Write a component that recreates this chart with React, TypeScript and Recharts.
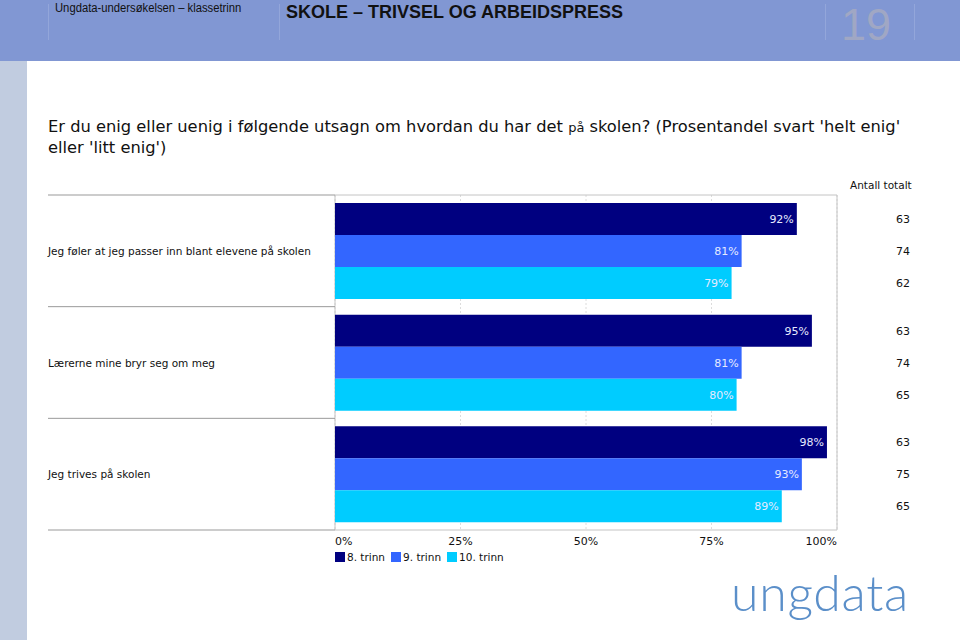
import { BarChart, Bar, XAxis, YAxis, CartesianGrid, LabelList, ReferenceArea } from "recharts";

const categories = [
  "Jeg føler at jeg passer inn blant elevene på skolen",
  "Lærerne mine bryr seg om meg",
  "Jeg trives på skolen",
];
const series = ["8. trinn", "9. trinn", "10. trinn"];
const trinn8 = [92, 95, 98];
const trinn9 = [81, 81, 93];
const trinn10 = [79, 80, 89];
const antall8 = [63, 63, 63];
const antall9 = [74, 74, 75];
const antall10 = [62, 65, 65];
const xTicks = [0, 25, 50, 75, 100];

const COLORS = ["#000080", "#3366ff", "#00ccff"];
const FONT = "'DejaVu Sans', Verdana, sans-serif";

const data = categories.map((label, i) => ({
  label,
  t8: trinn8[i],
  t9: trinn9[i],
  t10: trinn10[i],
  n8: antall8[i],
  n9: antall9[i],
  n10: antall10[i],
}));

const CHART_TOP = 170;
const MARGIN = { top: 25, right: 123, bottom: 10, left: 0 };
const CHART_H = 400;
const X_AXIS_H = 30;
const PLOT_H = CHART_H - MARGIN.top - MARGIN.bottom - X_AXIS_H;
const HALF_BAND = PLOT_H / categories.length / 2;

function CategoryTick(props: any) {
  const { y, payload, index } = props;
  const last = index === categories.length - 1;
  return (
    <g>
      <line x1={48} x2={335} y1={y - HALF_BAND} y2={y - HALF_BAND} stroke="#999" />
      {last && <line x1={48} x2={335} y1={y + HALF_BAND} y2={y + HALF_BAND} stroke="#999" />}
      <text x={48} y={y} dy={4} fontSize={10.5} fontFamily={FONT} fill="#111">
        {payload.value}
      </text>
    </g>
  );
}

function PercentTick(props: any) {
  const { x, y, payload, index } = props;
  const anchor = index === 0 ? "start" : index === xTicks.length - 1 ? "end" : "middle";
  return (
    <text x={x} y={y} dy={9} textAnchor={anchor} fontSize={11} fontFamily={FONT} fill="#111">
      {`${payload.value}%`}
    </text>
  );
}

function countLabel(key: string) {
  return (props: any) => {
    const { y, height, index } = props;
    const v = (data[index] as any)[key];
    return (
      <text x={910} y={y + height / 2} dy={4} textAnchor="end" fontSize={11} fontFamily={FONT} fill="#111">
        {v}
      </text>
    );
  };
}

export default function App() {
  const keys = ["t8", "t9", "t10"];
  const countKeys = ["n8", "n9", "n10"];
  return (
    <div style={{ position: "absolute", left: 0, top: 0, width: 960, height: 640, background: "#fff", overflow: "hidden" }}>
      {/* header band */}
      <div style={{ position: "absolute", left: 0, top: 0, width: 960, height: 61, background: "#8197d3" }} />
      {[48, 279, 825, 914].map((x) => (
        <div key={x} style={{ position: "absolute", left: x, top: 4, width: 1, height: 36, background: "#93a6da" }} />
      ))}
      <div
        style={{
          position: "absolute",
          left: 55,
          top: 1,
          fontFamily: "'Liberation Sans', Arial, sans-serif",
          fontSize: 12.5,
          color: "#111",
          whiteSpace: "nowrap",
          transform: "scaleX(0.9)",
          transformOrigin: "left top",
        }}
      >
        Ungdata-undersøkelsen – klassetrinn
      </div>
      <div style={{ position: "absolute", left: 286, top: 2, fontFamily: "'Liberation Sans', Arial, sans-serif", fontSize: 18, fontWeight: 700, color: "#111", whiteSpace: "nowrap" }}>
        SKOLE – TRIVSEL OG ARBEIDSPRESS
      </div>
      <div style={{ position: "absolute", left: 841, top: 0, fontFamily: "'Liberation Sans', Arial, sans-serif", fontSize: 45, lineHeight: "50px", color: "#a0a7c4" }}>
        19
      </div>
      {/* left stripe */}
      <div style={{ position: "absolute", left: 0, top: 61, width: 27, height: 579, background: "#c1cce0" }} />

      <div style={{ position: "absolute", left: 48, top: 117, fontFamily: FONT, fontSize: 16.3, lineHeight: "20px", color: "#111", whiteSpace: "nowrap" }}>
        Er du enig eller uenig i følgende utsagn om hvordan du har det <span style={{ fontSize: 13 }}>på</span> skolen? (Prosentandel svart 'helt enig'
        <br />
        eller 'litt enig')
      </div>

      <div style={{ position: "absolute", left: 850, top: 179, fontFamily: FONT, fontSize: 10.5, color: "#111" }}>Antall totalt</div>

      <div style={{ position: "absolute", left: 0, top: CHART_TOP }}>
        <BarChart
          width={960}
          height={CHART_H}
          data={data}
          layout="vertical"
          margin={MARGIN}
          barCategoryGap={8}
          barGap={0}
        >
          <CartesianGrid horizontal={false} stroke="#dcdcdc" strokeDasharray="2 2" />
          <XAxis
            type="number"
            domain={[0, 100]}
            ticks={xTicks}
            height={X_AXIS_H}
            axisLine={false}
            tickLine={false}
            tickSize={4}
            tick={<PercentTick />}
            interval={0}
          />
          <YAxis
            type="category"
            dataKey="label"
            width={335}
            axisLine={false}
            tickLine={false}
            tick={<CategoryTick />}
            interval={0}
          />
          <ReferenceArea x1={0} x2={100} fill="none" stroke="#c4c4c4" />
          {keys.map((k, i) => (
            <Bar key={k} dataKey={k} name={series[i]} fill={COLORS[i]} isAnimationActive={false}>
              <LabelList
                dataKey={k}
                position="insideRight"
                offset={3}
                formatter={(v: any) => `${v}%`}
                style={{ fill: "#e6eaff", fontSize: 11, fontFamily: FONT }}
              />
              <LabelList dataKey={countKeys[i]} content={countLabel(countKeys[i])} />
            </Bar>
          ))}
        </BarChart>
      </div>

      {/* legend */}
      <div style={{ position: "absolute", left: 335, top: 551, display: "flex", gap: 6, fontFamily: FONT, fontSize: 10.5, color: "#111" }}>
        {series.map((s, i) => (
          <div key={s} style={{ display: "flex", alignItems: "center", gap: 2 }}>
            <div style={{ width: 10, height: 10, background: COLORS[i] }} />
            <span>{s}</span>
          </div>
        ))}
      </div>

      {/* logo */}
      <div style={{ position: "absolute", left: 731, top: 562, fontFamily: "Lato, 'Open Sans', sans-serif", fontWeight: 300, fontSize: 50, color: "#5b8fc9", letterSpacing: 0.7 }}>
        ungdata
      </div>
    </div>
  );
}
